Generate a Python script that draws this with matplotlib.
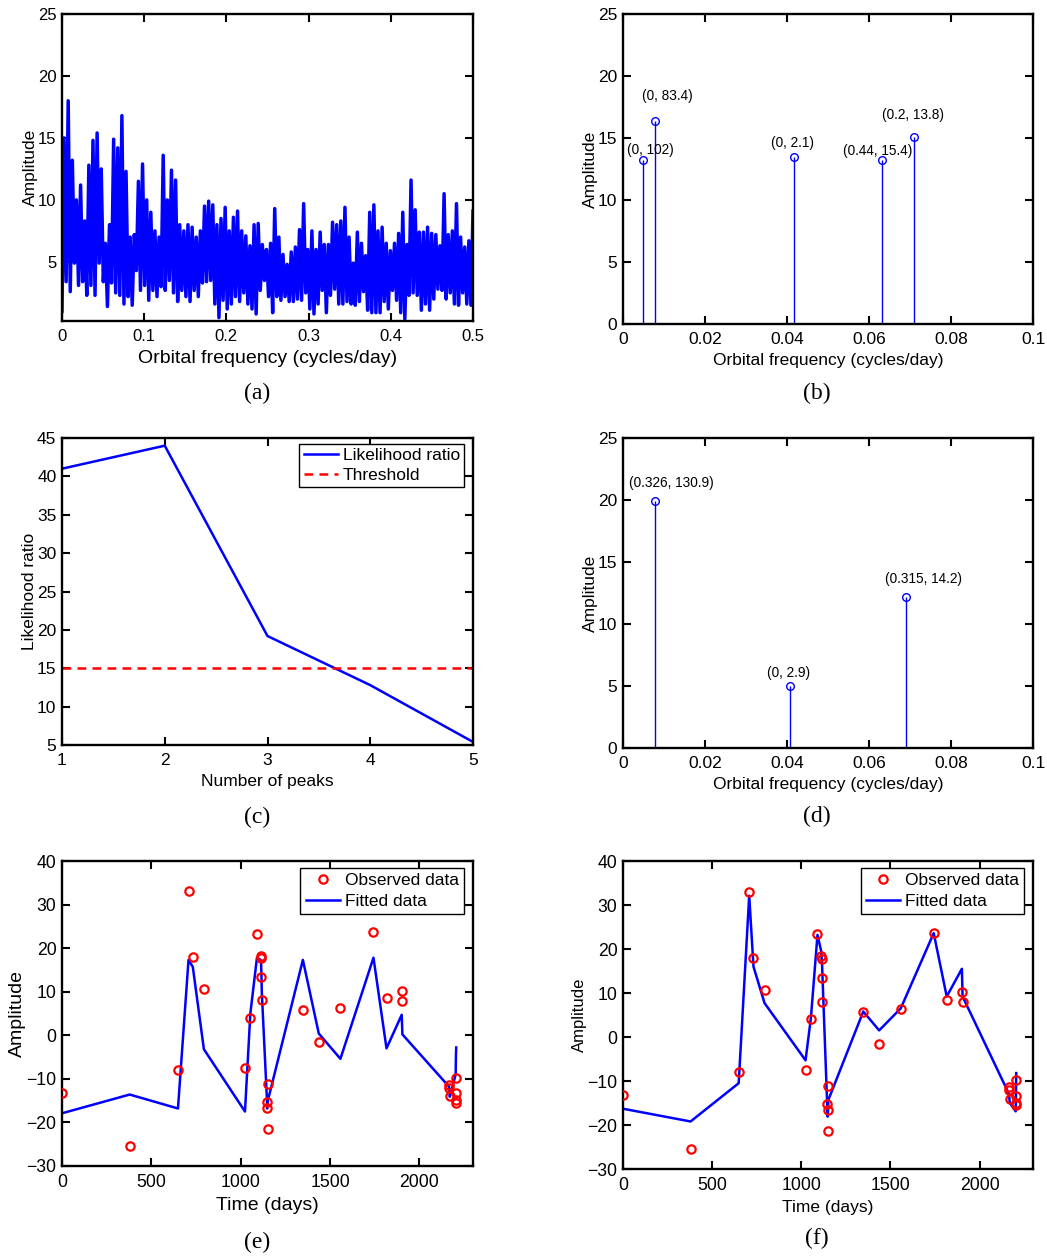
import numpy as np
import matplotlib
matplotlib.use("Agg")
import matplotlib.pyplot as plt

plt.rcParams['font.family'] = ['Liberation Sans', 'DejaVu Sans']
plt.rcParams['axes.unicode_minus'] = True

W, H = 1047, 1257

# ---------------- data ----------------
# (a) periodogram: per 0.005-wide bin, lower and upper excursions
amp_a_low = [1.0, 3.4, 2.6, 4.9, 3.1, 3.4, 2.3, 3.1, 2.3, 4.9,
             3.4, 1.4, 3.3, 2.5, 2.3, 1.6, 2.2, 1.5, 4.3, 2.7,
             3.1, 1.9, 2.7, 2.2, 3.0, 2.7, 3.5, 2.5, 1.8, 2.7,
             2.2, 1.8, 2.7, 2.2, 3.3, 3.4, 3.5, 1.6, 0.5, 1.9,
             1.2, 1.6, 2.2, 1.8, 2.5, 1.6, 1.2, 0.8, 2.7, 3.5,
             2.2, 0.9, 2.2, 1.9, 2.2, 1.8, 1.8, 2.0, 1.9, 2.5,
             1.2, 0.8, 1.6, 2.7, 0.9, 2.3, 2.8, 1.6, 1.6, 1.8,
             1.6, 1.5, 1.8, 2.6, 1.1, 0.9, 0.9, 0.9, 1.8, 1.2,
             2.7, 1.9, 0.9, 0.4, 2.3, 2.5, 2.3, 1.1, 1.6, 1.1,
             2.0, 2.8, 2.7, 2.0, 2.5, 1.6, 1.5, 2.5, 1.6, 1.5]
amp_a_high = [15.0, 18.0, 13.2, 10.0, 11.2, 8.3, 12.8, 14.8, 15.4, 12.5,
              6.5, 8.0, 14.9, 14.2, 16.8, 12.3, 7.0, 7.2, 11.5, 12.9,
              10.0, 9.0, 7.5, 7.0, 13.6, 10.0, 12.4, 11.6, 8.0, 7.5,
              8.0, 7.8, 7.0, 7.5, 9.5, 9.9, 9.6, 8.0, 8.5, 9.4,
              7.5, 8.6, 9.1, 7.5, 7.1, 6.3, 8.0, 8.1, 6.4, 6.0,
              6.5, 9.3, 7.0, 5.6, 4.8, 5.8, 6.2, 7.6, 9.7, 6.0,
              7.5, 6.0, 7.4, 6.4, 6.4, 8.2, 8.0, 8.3, 9.4, 7.0,
              4.9, 7.4, 6.5, 5.5, 9.0, 9.6, 7.5, 7.8, 6.5, 5.9,
              6.5, 7.3, 9.0, 6.4, 11.6, 9.2, 7.4, 7.4, 7.8, 7.3,
              7.2, 6.3, 10.5, 7.2, 7.5, 9.7, 7.0, 6.2, 6.7, 9.1]

# (b) detected peaks
peaks_b_freq = [0.00496, 0.00772, 0.04163, 0.06325, 0.07098]
peaks_b_amp = [13.2, 16.4, 13.5, 13.2, 15.1]
peaks_b_text = ["(0, 102)", "(0, 83.4)", "(0, 2.1)", "(0.44, 15.4)", "(0.2, 13.8)"]

# (c) likelihood ratio
n_peaks = [1, 2, 3, 4, 5]
likelihood = [41.0, 44.0, 19.2, 12.8, 5.4]
threshold = 15

# (d) final peaks
peaks_d_freq = [0.0078, 0.04065, 0.06894]
peaks_d_amp = [19.93, 4.96, 12.18]
peaks_d_text = ["(0.326, 130.9)", "(0, 2.9)", "(0.315, 14.2)"]

# (e)/(f) radial velocity data
times = [0, 379, 649, 708, 732, 794, 1024, 1054, 1091, 1112, 1114, 1116, 1118,
         1146, 1148, 1150, 1152, 1348, 1437, 1558, 1743, 1816, 1901, 1905,
         2166, 2168, 2170, 2203, 2204, 2205, 2206]
observed = [-13.2, -25.5, -7.9, 33.0, 17.9, 10.6, -7.4, 4.0, 23.3, 18.3, 17.7, 13.3, 8.0,
            -15.2, -16.7, -21.4, -11.1, 5.7, -1.6, 6.3, 23.7, 8.5, 10.2, 7.9,
            -11.4, -12.0, -14.0, -9.7, -13.3, -14.9, -15.5]
fitted_e = [-17.9, -13.6, -16.8, 17.3, 15.7, -3.2, -17.5, 5.0, 17.8, 17.3, 16.5, 14.0, 10.0,
            -14.0, -16.8, -16.0, -15.0, 17.3, 0.4, -5.4, 17.8, -3.0, 4.7, 0.2,
            -11.8, -12.8, -14.1, -9.0, -6.0, -4.0, -2.8]
fitted_f = [-16.3, -19.2, -10.5, 32.1, 16.0, 7.7, -5.3, 4.3, 23.2, 19.5, 18.0, 17.5, 15.0,
            -16.0, -18.1, -17.0, -14.3, 5.8, 1.5, 6.5, 23.6, 9.2, 15.5, 9.2,
            -13.0, -14.3, -15.0, -16.9, -14.0, -11.0, -8.2]

freq_ticks_a = [0, 0.1, 0.2, 0.3, 0.4, 0.5]
freq_labels_a = ["0", "0.1", "0.2", "0.3", "0.4", "0.5"]
freq_ticks_b = [0, 0.02, 0.04, 0.06, 0.08, 0.1]
freq_labels_b = ["0", "0.02", "0.04", "0.06", "0.08", "0.1"]
captions = ["(a)", "(b)", "(c)", "(d)", "(e)", "(f)"]

# ---------------- layout ----------------
fig = plt.figure(figsize=(W / 100, H / 100), dpi=100)


def add_ax(l, r, t, b):
    return fig.add_axes([l / W, 1 - b / H, (r - l) / W, (b - t) / H])


def style(ax, fs=12):
    for s in ax.spines.values():
        s.set_linewidth(1.7)
        s.set_color('black')
    ax.tick_params(direction='in', top=True, right=True, length=6, width=1.5,
                   labelsize=fs, colors='black')
    ax.tick_params(axis='x', pad=6)
    ax.tick_params(axis='y', pad=4)


ax_a = add_ax(62, 473, 14, 321)
ax_b = add_ax(623, 1033, 14, 324)
ax_c = add_ax(62, 473, 438, 745)
ax_d = add_ax(623, 1033, 438, 748)
ax_e = add_ax(62, 473, 861, 1166)
ax_f = add_ax(623, 1033, 861, 1169)

BLUE = '#0000ff'
RED = '#ff0000'

# (a)
freqs = np.linspace(0, 0.5, 2 * len(amp_a_low))
amp_a = np.ravel(np.column_stack([amp_a_low, amp_a_high]))
ax_a.plot(freqs, amp_a, color=BLUE, lw=2.5)
ax_a.set_xlim(0, 0.5)
ax_a.set_ylim(0.23, 25)
ax_a.set_xticks(freq_ticks_a)
ax_a.set_xticklabels(freq_labels_a)
ax_a.set_yticks([5, 10, 15, 20, 25])
style(ax_a, 12)
ax_a.set_xlabel("Orbital frequency (cycles/day)", fontsize=14, labelpad=4)
ax_a.set_ylabel("Amplitude", fontsize=12.5, labelpad=0)


def stems(ax, fx, fy, texts, offsets):
    ax.vlines(fx, 0, fy, color=BLUE, lw=1.0)
    ax.plot(fx, fy, 'o', mfc='none', mec=BLUE, ms=5.5, mew=1.0)
    for x, y, t, off in zip(fx, fy, texts, offsets):
        ax.annotate(t, (x, y), xytext=off, textcoords='offset points',
                    ha='center', va='center', fontsize=9.8)


# (b)
stems(ax_b, peaks_b_freq, peaks_b_amp, peaks_b_text,
      [(5, 7.5), (9.5, 17.5), (-1.2, 10), (-3.4, 7), (-0.7, 15.5)])
ax_b.set_xlim(0, 0.1)
ax_b.set_ylim(0, 25)
ax_b.set_xticks(freq_ticks_b)
ax_b.set_xticklabels(freq_labels_b)
ax_b.set_yticks([0, 5, 10, 15, 20, 25])
style(ax_b, 12.5)
ax_b.set_xlabel("Orbital frequency (cycles/day)", fontsize=12.5, labelpad=4)
ax_b.set_ylabel("Amplitude", fontsize=12.5, labelpad=0)

# (c)
ax_c.plot(n_peaks, likelihood, color=BLUE, lw=1.8, label="Likelihood ratio")
ax_c.axhline(threshold, color=RED, lw=1.8, ls=(0, (3.5, 2.5)), label="Threshold")
ax_c.set_xlim(1, 5)
ax_c.set_ylim(5, 45)
ax_c.set_xticks(n_peaks)
ax_c.set_yticks(range(5, 50, 5))
style(ax_c, 12.5)
ax_c.set_xlabel("Number of peaks", fontsize=12.5, labelpad=4)
ax_c.set_ylabel("Likelihood ratio", fontsize=12.5, labelpad=0)
leg = ax_c.legend(loc='upper right', bbox_to_anchor=(0.979, 0.981), borderaxespad=0,
                  fontsize=12.5, fancybox=False, edgecolor='black', framealpha=1,
                  handlelength=2.0, handletextpad=0.25, labelspacing=0.25, borderpad=0.25)
leg.get_frame().set_linewidth(1.0)

# (d)
stems(ax_d, peaks_d_freq, peaks_d_amp, peaks_d_text,
      [(11.7, 13.2), (-0.5, 10), (12.5, 13)])
ax_d.set_xlim(0, 0.1)
ax_d.set_ylim(0, 25)
ax_d.set_xticks(freq_ticks_b)
ax_d.set_xticklabels(freq_labels_b)
ax_d.set_yticks([0, 5, 10, 15, 20, 25])
style(ax_d, 12.5)
ax_d.set_xlabel("Orbital frequency (cycles/day)", fontsize=12.5, labelpad=4)
ax_d.set_ylabel("Amplitude", fontsize=12.5, labelpad=0)


def rv(ax, fitted, lab_fs, tick_fs, ylab_fs):
    ax.plot(times, observed, 'o', mfc='none', mec=RED, ms=6, mew=1.6,
            label="Observed data", zorder=3)
    ax.plot(times, fitted, color=BLUE, lw=1.8, label="Fitted data", zorder=2)
    ax.set_xlim(0, 2300)
    ax.set_ylim(-30, 40)
    ax.set_xticks([0, 500, 1000, 1500, 2000])
    ax.set_yticks(range(-30, 50, 10))
    style(ax, tick_fs)
    ax.set_xlabel("Time (days)", fontsize=lab_fs, labelpad=4)
    ax.set_ylabel("Amplitude", fontsize=ylab_fs, labelpad=0)
    lg = ax.legend(loc='upper right', bbox_to_anchor=(0.978, 0.977), borderaxespad=0,
                   fontsize=12.5, fancybox=False, edgecolor='black', framealpha=1,
                   handlelength=2.0, handletextpad=0.25, labelspacing=0.3, borderpad=0.3)
    lg.get_frame().set_linewidth(1.0)


rv(ax_e, fitted_e, 14, 12.7, 14)
rv(ax_f, fitted_f, 12.5, 12.7, 12)

# captions
cap_pos = [(257, 393), (817, 393), (257, 817), (817, 816), (257, 1242), (817, 1238)]
for c, (x, y) in zip(captions, cap_pos):
    fig.text(x / W, 1 - y / H, c, ha='center', va='center', fontsize=17,
             family=['Liberation Serif', 'DejaVu Serif'])

fig.savefig("out.png", dpi=100)
